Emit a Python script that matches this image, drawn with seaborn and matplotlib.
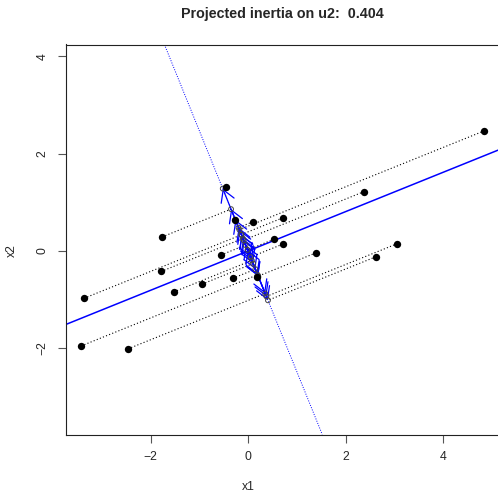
import numpy as np
import matplotlib
matplotlib.use("Agg")
import matplotlib.pyplot as plt
import seaborn as sns
from matplotlib.patches import FancyArrowPatch

# point cloud
x1 = [4.85, 2.38, -0.45, 0.10, 0.71, -1.76, -0.27, 0.53, 0.71, -0.55, 1.39,
      3.06, 2.62, -1.78, -3.36, -1.52, -0.94, -0.31, 0.19, -3.42, -2.46]
x2 = [2.47, 1.22, 1.31, 0.60, 0.68, 0.29, 0.64, 0.24, 0.14, -0.08, -0.04,
      0.15, -0.12, -0.42, -0.97, -0.84, -0.68, -0.56, -0.53, -1.95, -2.01]
x_ticks = [-2, 0, 2, 4]
y_ticks = [-2, 0, 2, 4]
u1_angle_deg = 22.0
title = "Projected inertia on u2:  0.404"

X = np.column_stack([x1, x2])
th = np.deg2rad(u1_angle_deg)
u1 = np.array([np.cos(th), np.sin(th)])
u2 = np.array([-np.sin(th), np.cos(th)])
c = X @ u2
P = np.outer(c, u2)

sns.set_style("white")
plt.rcParams['font.family'] = ['Liberation Sans', 'DejaVu Sans']

W, H = 498, 495
fig = plt.figure(figsize=(W / 100, H / 100), dpi=100)
ax = fig.add_axes([65.5 / W, 60.5 / H, (520 - 65.5) / W, (450.5 - 60.5) / H])

ax.set_xlim((65.5 - 248) / 48.75, (520 - 248) / 48.75)
ax.set_ylim((251 - 434.5) / 48.67, (251 - 44.5) / 48.67)

# principal directions
ax.axline((0, 0), slope=u1[1] / u1[0], color="blue", lw=1.1, zorder=2)
ax.axline((0, 0), slope=u2[1] / u2[0], color="blue", lw=0.7, ls=(0, (1, 1.5)), zorder=2)

# projection lines from each point to the u2 axis
for i in range(len(x1)):
    ax.plot([x1[i], P[i, 0]], [x2[i], P[i, 1]], color="black", lw=0.8,
            ls=(0, (1, 2)), zorder=2)

# arrows from the origin to the projected points
for i in range(len(x1)):
    ar = FancyArrowPatch((0, 0), (P[i, 0], P[i, 1]),
                         arrowstyle="->,head_length=0.85,head_width=0.5",
                         mutation_scale=10, color="blue", lw=0.9,
                         shrinkA=0, shrinkB=0, zorder=3)
    ax.add_patch(ar)

ax.scatter(P[:, 0], P[:, 1], s=12, facecolors="none", edgecolors="#444444",
           linewidths=0.7, zorder=4)
sns.scatterplot(x=x1, y=x2, ax=ax, color="black", s=28, edgecolor="black",
                linewidth=0, zorder=5)

ax.set_xticks(x_ticks)
ax.set_yticks(y_ticks)
ax.tick_params(axis="both", direction="out", length=6, width=0.8,
               color="#555555", labelsize=8.8, pad=6, bottom=True, left=True)
for lab in ax.get_yticklabels():
    lab.set_rotation(90)
    lab.set_va("center")
for side in ["left", "bottom", "top", "right"]:
    ax.spines[side].set_color("#222222")
    ax.spines[side].set_linewidth(0.8)

fig.text(248 / W, 1 - 487 / H, "x1", ha="center", va="center", fontsize=8.8)
fig.text(12 / W, 1 - 251 / H, "x2", ha="center", va="center", rotation=90, fontsize=8.8)
fig.text(282 / W, 1 - 14 / H, title, ha="center", va="center",
         fontsize=10.3, fontweight="bold")

fig.savefig("out.png", dpi=100)
